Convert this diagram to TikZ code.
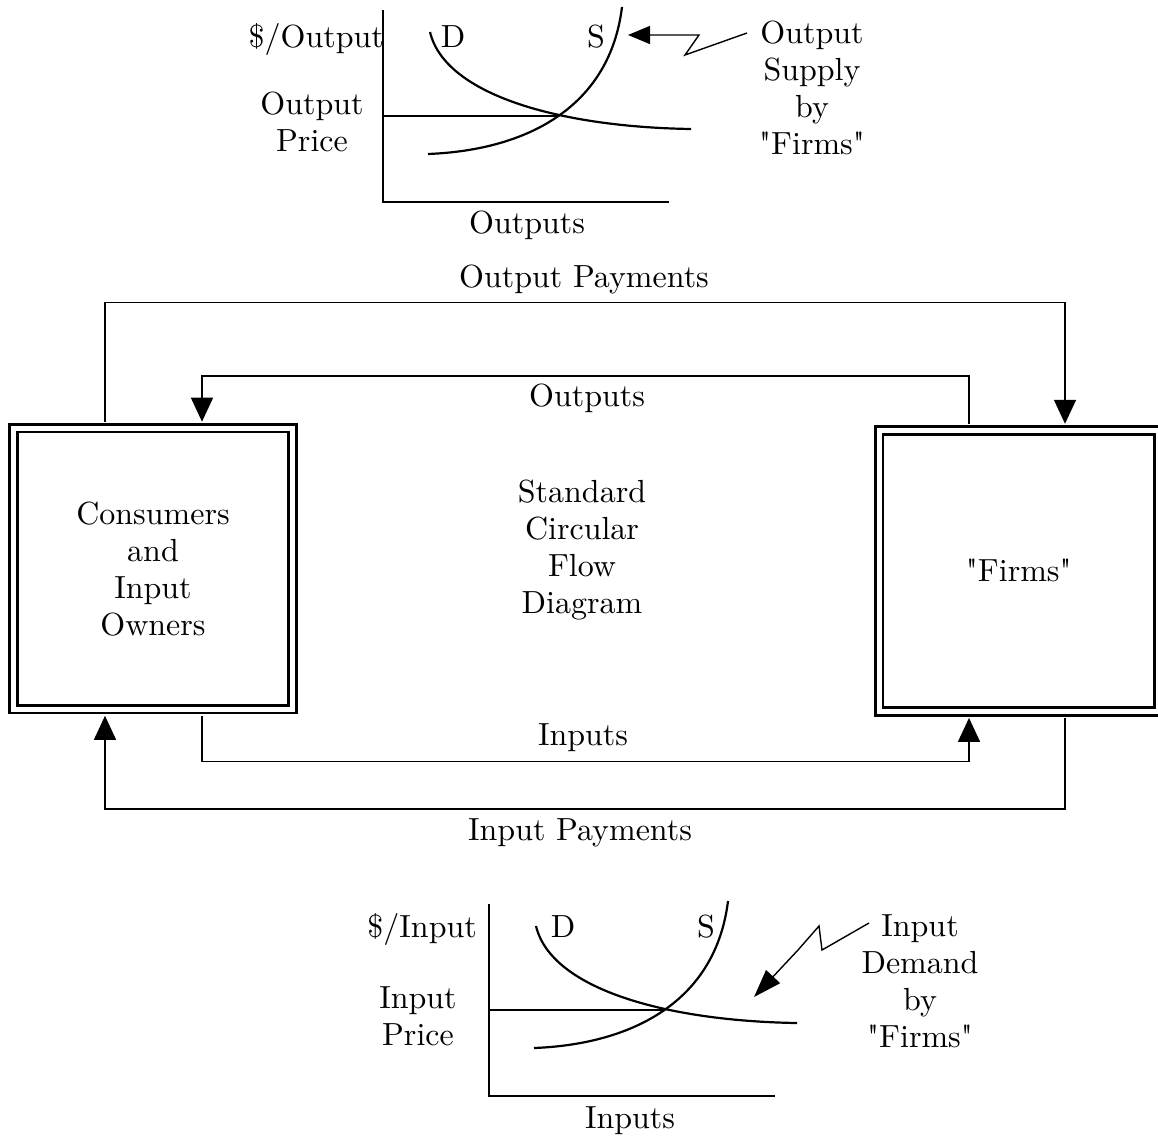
\documentclass[tikz,border=0pt]{standalone}
\usepackage{fontspec}
\newfontfamily\diagfont{lmroman10-regular.otf}
\usepackage{tikz}
\usetikzlibrary{arrows.meta}
\tikzset{
  box/.style={draw, line width=2.7pt, double, double distance=5pt, minimum width=279pt, minimum height=281pt, align=center, inner sep=0pt},
  flow/.style={line width=1.4pt, shorten <=5.2pt, shorten >=5.2pt},
  lbl/.style={inner sep=0pt, align=center},
  every node/.style={font=\diagfont\fontsize{32}{37}\selectfont},
}
\newcommand{\MarketGraph}{%
  \draw[line width=1.3pt] (383,10) -- (383,202) -- (669,202);
  \draw[line width=1.3pt] (383,116) -- (559,116);
  \draw[line width=2.2pt] (430,32) .. controls (445,95) and (560,127) .. (691,129);
  \draw[line width=2.2pt] (428,154) .. controls (530,150) and (610,105) .. (622,7);
}

\begin{document}
\begin{tikzpicture}[>={Triangle[length=24pt,width=22pt]}, x=1pt, y=-1pt]
\useasboundingbox (0,0) rectangle (1158,1138);

% output market
\MarketGraph
\draw(384,47) node[lbl, anchor=base east] (ylabOut) {\$/Output};
\draw(453,47) node[lbl, anchor=base] (dOut) {D};
\draw(596,47) node[lbl, anchor=base] (sOut) {S};
\draw(312,122) node[lbl] (priceOut) {Output\\Price};
\draw(812,88) node[lbl] (supplyLbl) {Output\\Supply\\by\\"Firms"};
\draw(527,233) node[lbl, anchor=base] (xlabOut) {Outputs};
\draw[line width=1.4pt, -{Triangle[length=22pt,width=18pt]}] (747,33) -- (685,55) -- (699,35) -- (628,35);

% the two sectors
\draw(153,568.75) node[box] (cons) {Consumers\\and\\Input\\Owners};
\draw(1018.75,570.85) node[box] (firms) {"Firms"};
\draw(582,550) node[lbl] (title) {Standard\\Circular\\Flow\\Diagram};

% flows
\draw[flow, ->] ([xshift=-48pt]cons.north) -- ++(0,-124.5) -| ([xshift=46.25pt]firms.north);
\draw[flow, ->] ([xshift=-49.75pt]firms.north) -- ++(0,-53) -| ([xshift=49pt]cons.north);
\draw[flow, ->] ([xshift=49pt]cons.south) -- ++(0,51) -| ([xshift=-49.75pt]firms.south);
\draw[flow, ->] ([xshift=46.25pt]firms.south) -- ++(0,96.3) -| ([xshift=-48pt]cons.south);
\draw(584,287) node[lbl, anchor=base] (payOut) {Output Payments};
\draw(587,406) node[lbl, anchor=base] (flowOut) {Outputs};
\draw(583,745) node[lbl, anchor=base] (flowIn) {Inputs};
\draw(580,840) node[lbl, anchor=base] (payIn) {Input Payments};

% input market
\begin{scope}[shift={(106,894)}]
\MarketGraph
\end{scope}
\draw(477,937) node[lbl, anchor=base east] (ylabIn) {\$/Input};
\draw(563,937) node[lbl, anchor=base] (dIn) {D};
\draw(706,937) node[lbl, anchor=base] (sIn) {S};
\draw(418,1016) node[lbl] (priceIn) {Input\\Price};
\draw(920,981.5) node[lbl] (demandLbl) {Input\\Demand\\by\\"Firms"};
\draw(630,1128) node[lbl, anchor=base] (xlabIn) {Inputs};
\draw[line width=1.4pt, -{Triangle[length=28pt,width=19pt]}] (869,923) -- (822,950) -- (819,926) -- (798,950) -- (754,997);

\end{tikzpicture}
\end{document}
